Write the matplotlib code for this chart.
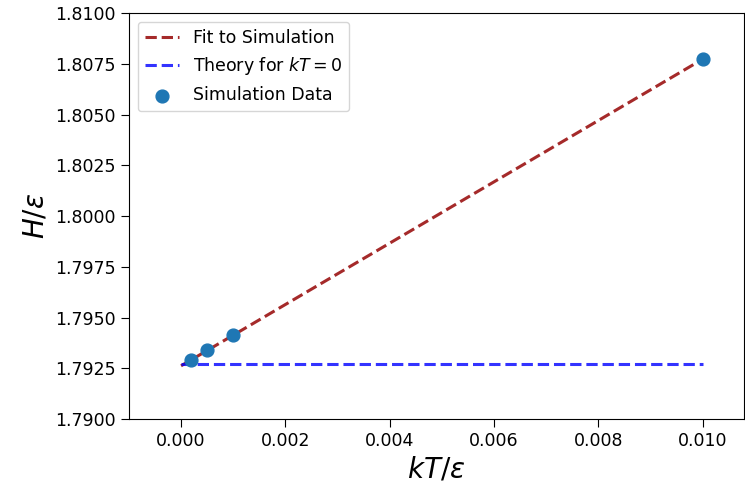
import numpy as np
import matplotlib.pyplot as plt
from matplotlib.ticker import FormatStrFormatter

# simulation results
kT = np.array([0.0002, 0.0005, 0.001, 0.01])
H = np.array([1.79291, 1.79340, 1.79414, 1.80773])
H_theory = 1.7927  # kT = 0 limit
kT_range = [0.0, 0.01]

slope, intercept = np.polyfit(kT, H, 1)
xfit = np.array(kT_range)

fig = plt.figure(figsize=(7.45, 4.88), dpi=100)
ax = fig.add_axes([0.173, 0.141, 0.826, 0.832])

ax.plot(xfit, slope * xfit + intercept, '--', color='brown', lw=2.2, label='Fit to Simulation')
ax.plot(xfit, [H_theory, H_theory], '--', color='blue', alpha=0.8, lw=2.2,
        label='Theory for $kT = 0$')
ax.scatter(kT, H, s=85, color='C0', label='Simulation Data', zorder=3)

ax.set_xlim(-0.001, 0.0108)
ax.set_ylim(1.79, 1.81)
ax.set_yticks(np.arange(1.79, 1.81001, 0.0025))
ax.yaxis.set_major_formatter(FormatStrFormatter('%.4f'))
ax.xaxis.set_major_formatter(FormatStrFormatter('%.3f'))
ax.tick_params(labelsize=12.5, length=6)
ax.set_xlabel(r'$kT/\epsilon$', fontsize=20)
ax.set_ylabel(r'$H/\epsilon$', fontsize=20)
ax.legend(loc='upper left', fontsize=12.5)

fig.savefig('out.png')
